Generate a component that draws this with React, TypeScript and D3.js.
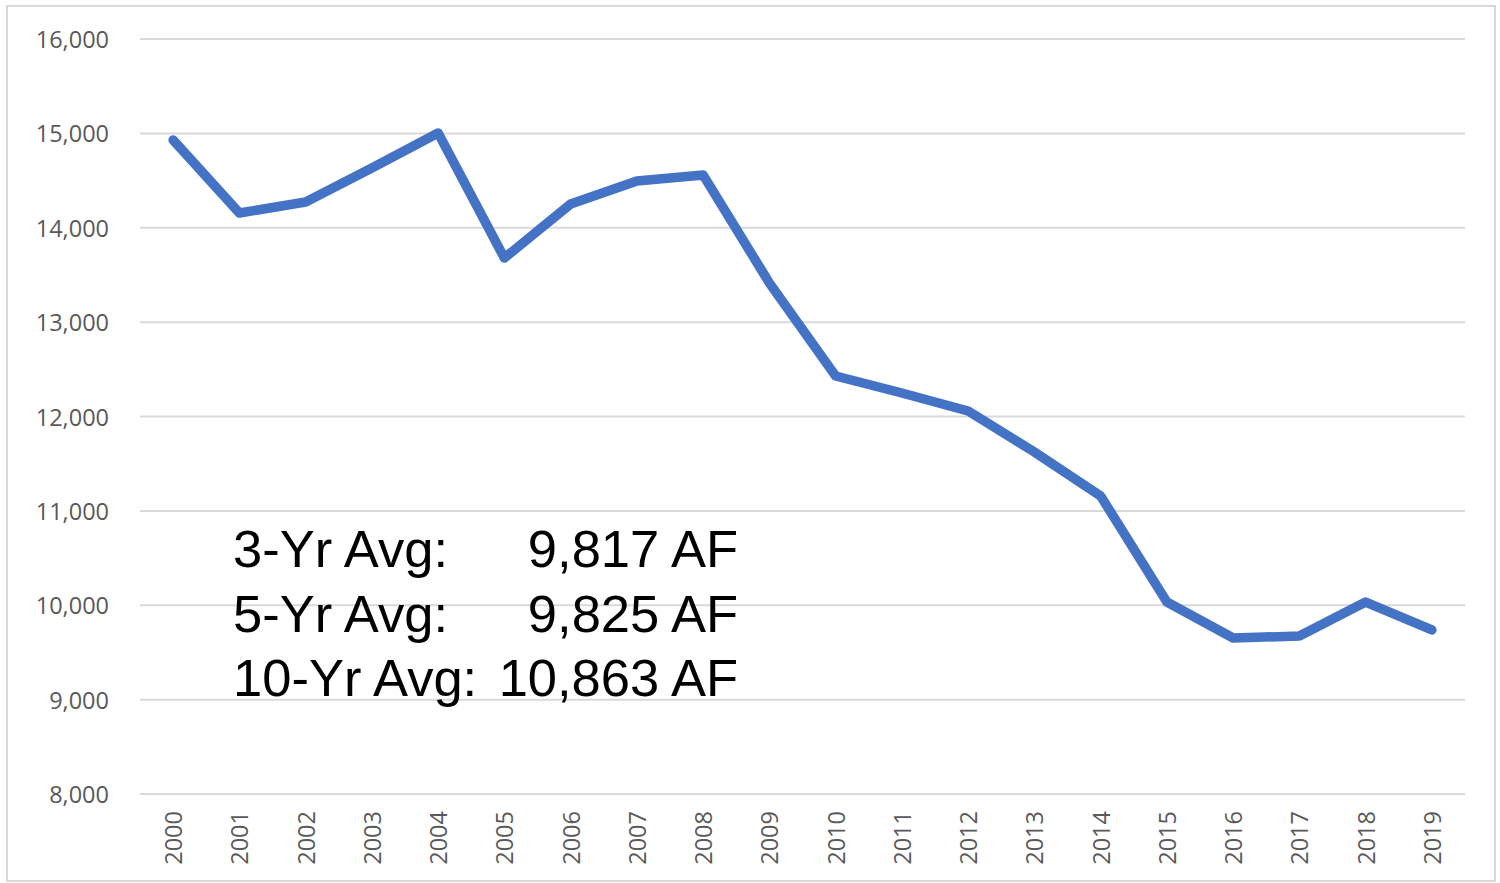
import React, { useEffect, useRef } from 'react';
import * as d3 from 'd3';

const years = ['2000', '2001', '2002', '2003', '2004', '2005', '2006', '2007', '2008', '2009',
  '2010', '2011', '2012', '2013', '2014', '2015', '2016', '2017', '2018', '2019'];
const values = [14930, 14156, 14273, 14633, 15004, 13679, 14252, 14495, 14559, 13415,
  12429, 12249, 12058, 11624, 11158, 10034, 9653, 9674, 10034, 9738];
const yTicks = [8000, 9000, 10000, 11000, 12000, 13000, 14000, 15000, 16000];
const avgLabels = ['3-Yr Avg:', '5-Yr Avg:', '10-Yr Avg:'];
const avgValues = ['9,817 AF', '9,825 AF', '10,863 AF'];

export default function App() {
  const ref = useRef<SVGSVGElement>(null);

  useEffect(() => {
    const svg = d3.select(ref.current);
    svg.selectAll('*').remove();

    const x = d3.scaleBand().domain(years).range([140, 1465]);
    const y = d3.scaleLinear().domain([8000, 16000]).range([794, 39]);

    // chart border
    svg.append('rect')
      .attr('x', 7).attr('y', 6).attr('width', 1488).attr('height', 875)
      .attr('fill', '#fff').attr('stroke', '#d9d9d9').attr('stroke-width', 2);

    // gridlines
    svg.append('g').selectAll('line').data(yTicks).join('line')
      .attr('x1', 140).attr('x2', 1465)
      .attr('y1', d => y(d)).attr('y2', d => y(d))
      .attr('stroke', '#d9d9d9').attr('stroke-width', 2);

    const fmt = d3.format(',');
    svg.append('g').selectAll('text').data(yTicks).join('text')
      .attr('x', 109).attr('y', d => y(d))
      .attr('text-anchor', 'end').attr('dominant-baseline', 'central')
      .attr('font-family', 'Open Sans').attr('font-size', 23.5).attr('fill', '#595959')
      .text(d => fmt(d));

    svg.append('g').selectAll('text').data(years).join('text')
      .attr('transform', d => `translate(${x(d)! + x.bandwidth() / 2},811) rotate(-90)`)
      .attr('text-anchor', 'end').attr('dominant-baseline', 'central')
      .attr('font-family', 'Open Sans').attr('font-size', 23.5).attr('fill', '#595959')
      .text(d => d);

    const line = d3.line<number>()
      .x((d, i) => x(years[i])! + x.bandwidth() / 2)
      .y(d => y(d));

    svg.append('path').datum(values)
      .attr('d', line)
      .attr('fill', 'none').attr('stroke', '#4472c4').attr('stroke-width', 9.5)
      .attr('stroke-linejoin', 'round').attr('stroke-linecap', 'round');

    // averages text box
    const g = svg.append('g')
      .attr('font-family', 'Liberation Sans, Arial, sans-serif').attr('font-size', 52.5).attr('fill', '#000');
    g.selectAll('text.lab').data(avgLabels).join('text').attr('class', 'lab')
      .attr('x', 233).attr('y', (d, i) => 567 + i * 64.5)
      .text(d => d);
    g.selectAll('text.val').data(avgValues).join('text').attr('class', 'val')
      .attr('x', 738).attr('y', (d, i) => 567 + i * 64.5)
      .attr('text-anchor', 'end')
      .text(d => d);
  }, []);

  return (
    <svg ref={ref} width={1500} height={883}
      style={{ position: 'absolute', left: 0, top: 0, background: '#fff' }} />
  );
}
